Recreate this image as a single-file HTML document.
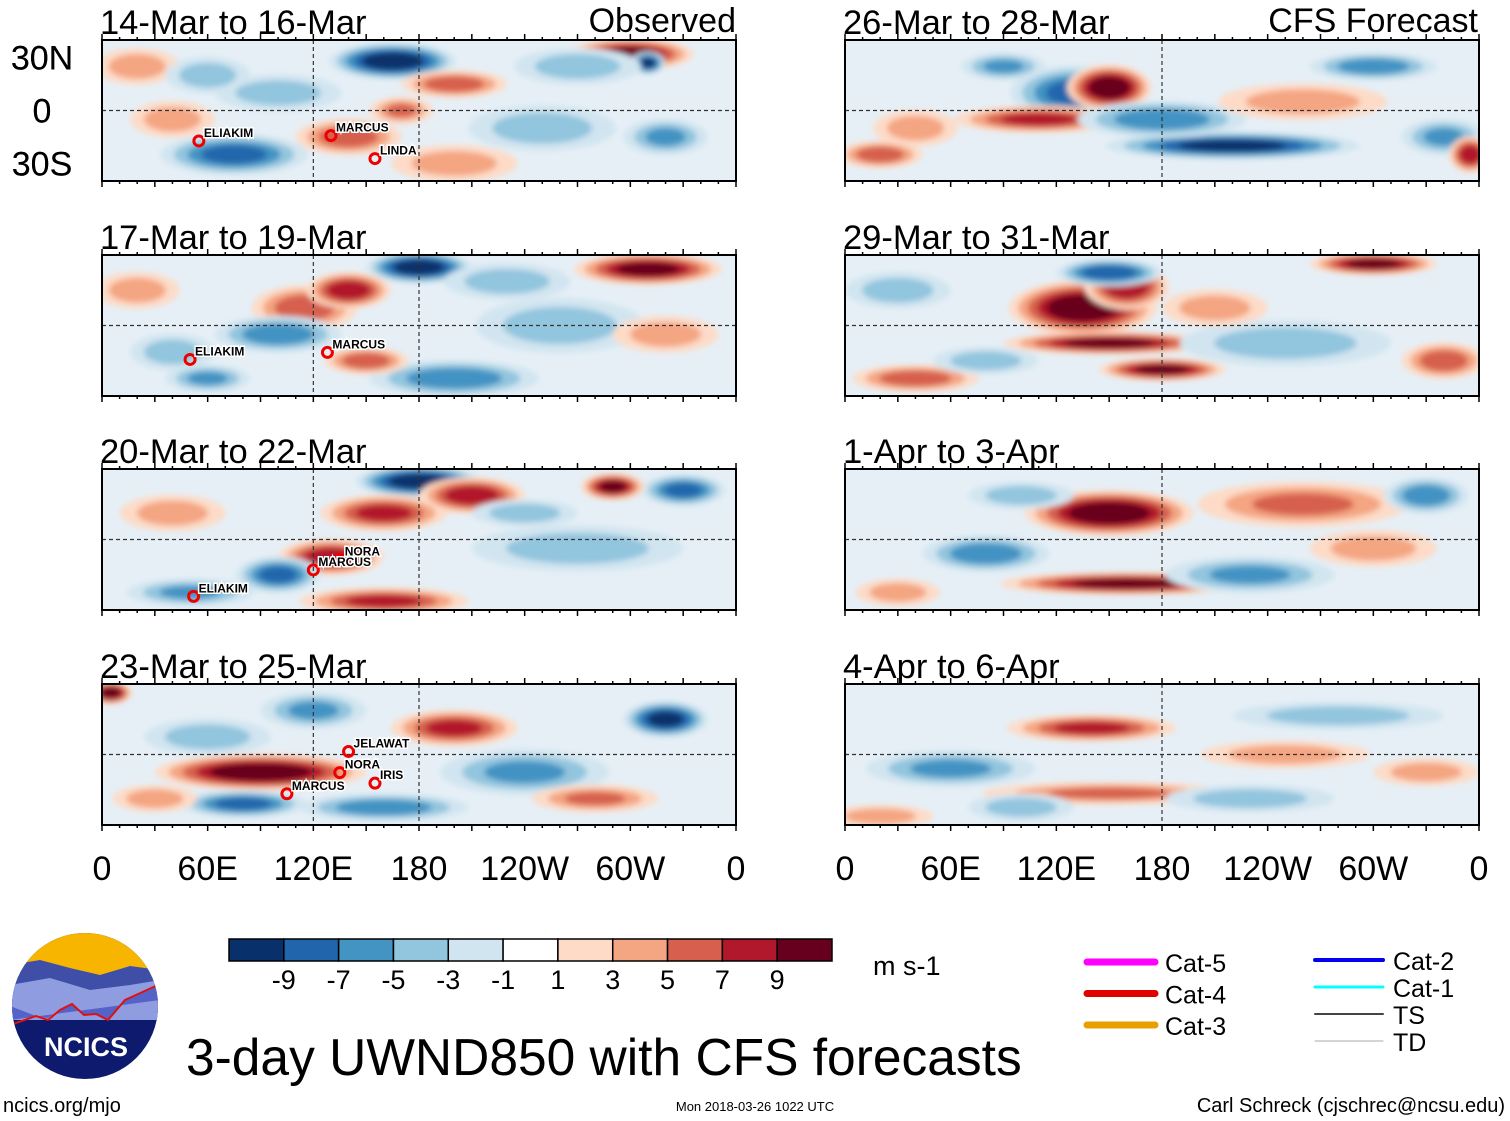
<!DOCTYPE html>
<html><head><meta charset="utf-8"><style>
body{margin:0;background:#fff;}
svg{display:block;font-family:"Liberation Sans",sans-serif;}
</style></head><body>
<svg id="fig" width="1510" height="1121" viewBox="0 0 1510 1121">
<defs><filter id="blur" x="-20%" y="-20%" width="140%" height="140%"><feGaussianBlur stdDeviation="3"/></filter></defs>
<g id="panels"></g>
<g id="cbar"></g>
<text x="873" y="975" font-size="27">m s-1</text>
<g>
<clipPath id="lc"><circle cx="85" cy="1006" r="73"/></clipPath>
<g clip-path="url(#lc)">
<rect x="10" y="930" width="150" height="160" fill="#0d1a6e"/>
<rect x="10" y="930" width="150" height="45" fill="#f7b500"/>
<path d="M10 965 L40 960 L70 968 L100 975 L130 966 L160 970 L160 1020 L10 1020Z" fill="#3f4fa8"/>
<path d="M10 985 L50 978 L90 990 L130 985 L160 980 L160 1020 L10 1020Z" fill="#8f9de0"/>
<path d="M10 1006 L36 1016 L48 1018 L60 1010 L72 1004 L84 1015 L96 1014 L108 1020 L125 1000 L160 984 L160 1000 L10 1020Z" fill="#5563c8"/>
<path d="M10 1025 L36 1016 L48 1020 L60 1010 L72 1004 L84 1015 L96 1014 L108 1020 L125 1000 L160 984" fill="none" stroke="#e01010" stroke-width="2"/>
</g>
<text x="86" y="1056" font-size="27" font-weight="bold" fill="#fff" text-anchor="middle">NCICS</text>
</g>
<text x="3" y="1112" font-size="20">ncics.org/mjo</text>
<text x="186" y="1075" font-size="51.5">3-day UWND850 with CFS forecasts</text>
<text x="755" y="1111" font-size="13" text-anchor="middle">Mon 2018-03-26 1022 UTC</text>
<text x="1505" y="1112" font-size="20" text-anchor="end">Carl Schreck (cjschrec@ncsu.edu)</text>
<g id="legend"></g>
</svg>
<script>
const NS="http://www.w3.org/2000/svg";
const levels=[-9,-7,-5,-3,-1,1,3,5,7,9];
const colors=["#08306b","#2166ac","#4393c3","#92c5de","#d1e5f0","#ffffff","#fddbc7","#f4a582","#d6604d","#b2182b","#67001f"];
const panelTitles=["14-Mar to 16-Mar","17-Mar to 19-Mar","20-Mar to 22-Mar","23-Mar to 25-Mar","26-Mar to 28-Mar","29-Mar to 31-Mar","1-Apr to 3-Apr","4-Apr to 6-Apr"];
const lonLabels=["0","60E","120E","180","120W","60W","0"];
const lonTicks=[0,60,120,180,240,300,360];
const latLabels=["30N","0","30S"];
const latTicks=[30,0,-30];
// blobs: [lon, lat, lonRadius, latRadius, anomaly m/s]
const blobs0=[[165,28,30,8,-10],[200,15,25,6,6],[300,32,30,7,9],[310,27,8,5,-9],[75,-25,35,9,-7],[40,-5,20,8,4],[140,-15,25,8,6],[250,-10,35,10,-4],[320,-15,20,8,-5],[100,10,30,8,-4],[200,-30,30,8,4],[20,25,20,8,4],[60,20,20,8,-4],[270,25,30,8,-4],[170,0,15,6,5]];
const blobs1=[[180,33,25,7,-10],[115,10,25,10,6],[140,20,20,8,8],[310,32,35,7,9],[100,-5,30,8,-6],[200,-30,40,8,-6],[40,-15,20,8,-4],[260,0,40,12,-4],[320,-5,25,8,4],[150,-20,20,6,6],[230,25,30,8,-4],[20,20,20,8,4],[60,-30,20,6,-5]];
const blobs2=[[180,33,30,7,-10],[160,15,30,8,7],[210,25,25,8,8],[130,-10,25,8,8],[100,-20,20,8,-7],[50,-30,30,6,-5],[270,-5,50,10,-4],[330,28,20,7,-7],[160,-35,40,6,7],[290,30,15,6,9],[40,15,25,8,4],[240,15,25,6,-4]];
const blobs3=[[90,-10,50,8,10],[80,-28,30,6,-7],[200,15,30,8,7],[320,20,20,8,-9],[240,-10,40,10,-5],[160,-30,40,6,-6],[5,35,10,5,10],[280,-25,30,6,5],[60,10,30,8,-4],[120,25,25,8,-5],[30,-25,20,6,4]];
const blobs4=[[130,10,30,12,-7],[150,13,20,10,10],[110,-5,40,6,7],[220,-20,60,6,-9],[180,-5,40,8,-6],[300,25,30,6,-6],[40,-10,20,8,4],[340,-15,20,8,-5],[90,25,20,6,-5],[260,5,40,8,4],[355,-25,10,8,8],[20,-25,20,6,6]];
const blobs5=[[135,10,35,12,10],[160,22,20,10,8],[150,-10,50,5,9],[180,-25,30,5,9],[150,30,25,6,-8],[40,-30,30,6,6],[300,35,30,5,9],[250,-10,50,10,-4],[30,20,25,8,-4],[340,-20,20,8,6],[210,10,25,8,4],[80,-20,25,6,-4]];
const blobs6=[[150,15,40,10,10],[160,-25,60,5,9],[80,-8,30,8,-6],[260,20,50,10,5],[330,25,20,8,-6],[230,-20,40,8,-5],[30,-30,20,6,4],[300,-5,30,8,4],[100,25,25,6,-4]];
const blobs7=[[140,15,40,6,7],[150,-22,60,5,5],[60,-8,40,8,-5],[280,22,50,6,-4],[230,-25,40,6,-4],[330,-10,25,6,4],[20,-35,25,5,4],[250,0,40,6,4],[100,-30,25,6,-4]];
const allBlobs=[blobs0,blobs1,blobs2,blobs3,blobs4,blobs5,blobs6,blobs7];
const storms=[["ELIAKIM",55,-15],["MARCUS",130,-12],["LINDA",155,-25],["ELIAKIM",50,-17],["MARCUS",128,-13],["NORA",135,-9],["MARCUS",120,-15],["ELIAKIM",52,-30],["JELAWAT",140,4],["NORA",135,-8],["MARCUS",105,-20],["IRIS",155,-14]];
const stormPanel=[0,0,0,1,1,2,2,2,3,3,3,3];
function colorFor(v){let i=0;while(i<levels.length&&v>levels[i])i++;return colors[i];}
function el(t,a,p){const e=document.createElementNS(NS,t);for(const k in a)e.setAttribute(k,a[k]);p.appendChild(e);return e;}
const W=634,H=141,tops=[40,255,469,684],lefts=[102,845];
const P=document.getElementById('panels');
for(let p=0;p<8;p++){
 const x0=lefts[Math.floor(p/4)],y0=tops[p%4];
 const X=lon=>x0+lon/360*W, Y=lat=>y0+(40-lat)/80*H;
 const g=el('g',{},P);
 
 
 const cp=el('clipPath',{id:'cp'+p},g);
 el('rect',{x:x0,y:y0,width:W,height:H},cp);
 const inner=el('g',{'clip-path':'url(#cp'+p+')'},g);
 el('rect',{x:x0,y:y0,width:W,height:H,fill:'#e6eff6'},inner);
 const bg=el('g',{filter:'url(#blur)'},inner);
 for(const b of allBlobs[p]){
  const v=b[4],s=Math.sign(v),a=Math.abs(v);
  for(let k=1;k<=a;k+=2){
   const f=1-(k-1)/a*0.65;
   const e=el('ellipse',{cx:X(b[0]),cy:Y(b[1]),rx:b[2]/360*W*1.2*f,ry:b[3]/80*H*1.3*f,fill:colorFor(s*(k+1))},bg);
   
   
  }
 }
 el('line',{x1:x0,x2:x0+W,y1:Y(0),y2:Y(0),stroke:'#333','stroke-dasharray':'4 3','stroke-width':1.2},inner);
 el('line',{x1:X(180),x2:X(180),y1:y0,y2:y0+H,stroke:'#333','stroke-dasharray':'4 3','stroke-width':1.2},inner);
 if(p<4) el('line',{x1:X(120),x2:X(120),y1:y0,y2:y0+H,stroke:'#333','stroke-dasharray':'4 3','stroke-width':1.2},inner);
 el('rect',{x:x0,y:y0,width:W,height:H,fill:'none',stroke:'#000','stroke-width':2},g);
 for(let l=0;l<=360;l+=10){const big=l%30==0?6:3;
  el('line',{x1:X(l),x2:X(l),y1:y0-big,y2:y0,stroke:'#000','stroke-width':1.5},g);
  el('line',{x1:X(l),x2:X(l),y1:y0+H,y2:y0+H+big,stroke:'#000','stroke-width':1.5},g);}
 const t=el('text',{x:x0-2,y:y0-6,'font-size':34.5},g);t.textContent=panelTitles[p];
 
 if(p%4==0){
  latTicks.forEach((la,i)=>{const tt=el('text',{x:42,y:Y(la)+12,'font-size':34,'text-anchor':'middle'},g);tt.textContent=latLabels[i];
  });
 }
 if(p%4==3){
  lonTicks.forEach((lo,i)=>{const tt=el('text',{x:X(lo),y:880,'font-size':34,'text-anchor':'middle'},g);tt.textContent=lonLabels[i];
  });
 }
 storms.forEach((s,i)=>{if(stormPanel[i]!==p)return;
  el('circle',{cx:X(s[1]),cy:Y(s[2])+4,r:5,fill:'none',stroke:'#e00','stroke-width':3},g);
  const tt=el('text',{x:X(s[1])+5,y:Y(s[2]),'font-size':12,'font-weight':'bold',stroke:'#fff','stroke-width':3,'paint-order':'stroke'},g);
  tt.textContent=s[0];});
}
const t1=el('text',{x:736,y:32,'font-size':34,'text-anchor':'end'},P);t1.textContent='Observed';

const t2=el('text',{x:1478,y:32,'font-size':34,'text-anchor':'end'},P);t2.textContent='CFS Forecast';

const C=document.getElementById('cbar');const cx0=229,cw=(832-229)/colors.length;
colors.forEach((c,i)=>{const r=el('rect',{x:cx0+i*cw,y:939,width:cw,height:22,fill:c,stroke:'#000','stroke-width':1.5},C);
 });
levels.forEach((l,i)=>{const t=el('text',{x:cx0+(i+1)*cw,y:989,'font-size':27,'text-anchor':'middle'},C);t.textContent=l;
 });
const legNames=["Cat-5","Cat-4","Cat-3","Cat-2","Cat-1","TS","TD"];
const legColors=["#ff00ff","#e00000","#e8a000","#0000ee","#00ffff","#444","#aaa"];
const legW=[7,7,7,4,3,2,1];
const L=document.getElementById('legend');
legNames.forEach((n,i)=>{const left=i<3,xx=left?1087:1315,yy=left?962+i*31.5:960+(i-3)*27;
 el('line',{x1:xx,x2:xx+68,y1:yy,y2:yy,stroke:legColors[i],'stroke-width':legW[i],'stroke-linecap':'round'},L);
 const t=el('text',{x:xx+78,y:yy+10,'font-size':25},L);t.textContent=n;
 });
</script>
</body></html>
